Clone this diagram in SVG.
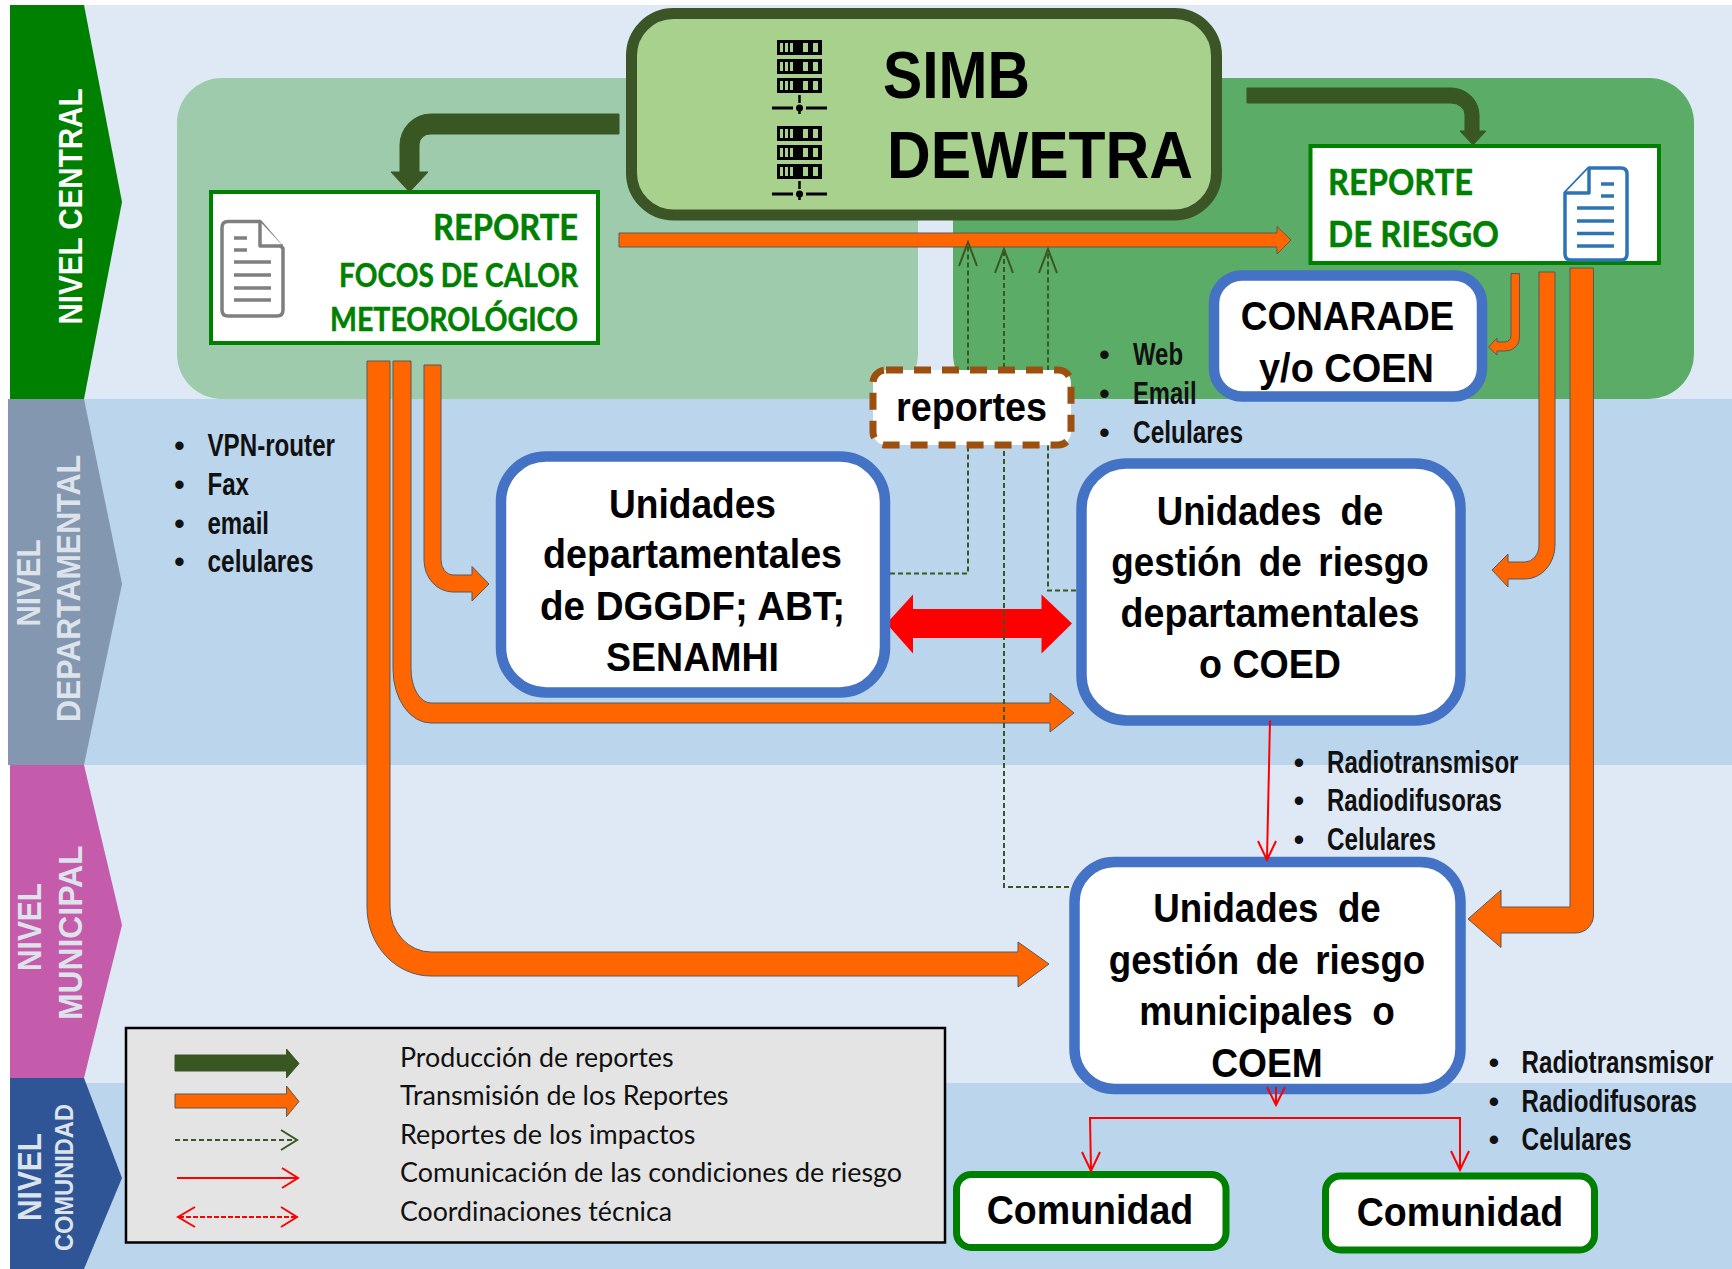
<svg xmlns="http://www.w3.org/2000/svg" xmlns:xlink="http://www.w3.org/1999/xlink" width="1732" height="1269" viewBox="0 0 1732 1269">
<style>
text{font-family:"Liberation Sans",Arial,sans-serif}
.lv{font-weight:700;font-size:33px;fill:#fff}
.lvd{font-weight:700;font-size:33px;fill:#DDE3EA}
.h{font-weight:700;font-size:40px;fill:#000;text-anchor:middle}
.g{font-family:Lato,"Open Sans",sans-serif;font-weight:700;font-size:37px;fill:#008000;stroke:#008000;stroke-width:.5}
.gs{font-family:Lato,"Open Sans",sans-serif;font-weight:700;font-size:33px;fill:#008000;stroke:#008000;stroke-width:.5}
.b{font-weight:700;font-size:31px;fill:#111}
.bl{font-size:31px;fill:#111;text-anchor:middle}
.lg{font-family:Lato,"Open Sans",sans-serif;font-size:27px;fill:#111}
.or{fill:#FF6600;stroke:#595959;stroke-width:1}
.dk{fill:#385723;stroke:#385723;stroke-width:1}
.box{fill:#fff;stroke:#4472C4;stroke-width:10.5}
.com{fill:#fff;stroke:#008000;stroke-width:7}
.rep{fill:#fff;stroke:#008000;stroke-width:4}
.dash{fill:none;stroke:#385723;stroke-width:2;stroke-dasharray:5 3}
.head{fill:none;stroke:#385723;stroke-width:2}
.red{fill:none;stroke:#FF0000;stroke-width:2}
.doc1{fill:#fff;stroke:#7F7F7F;stroke-width:3.5;stroke-linejoin:round}
.doc2{fill:#fff;stroke:#2E74B5;stroke-width:3.5;stroke-linejoin:round}
</style>
<defs>
<g id="rack">
<rect x="0" y="0" width="45" height="15" fill="#000"/>
<rect x="3" y="3" width="3" height="9" fill="#A9D18E"/><rect x="8" y="3" width="3" height="9" fill="#A9D18E"/><rect x="13" y="3" width="3" height="9" fill="#A9D18E"/><rect x="26" y="3" width="5" height="9" fill="#A9D18E"/><rect x="36" y="3" width="5" height="9" fill="#A9D18E"/>
</g>
<g id="server">
<use xlink:href="#rack" href="#rack" y="0"/><use xlink:href="#rack" href="#rack" y="19"/><use xlink:href="#rack" href="#rack" y="38"/>
<path d="M22.500 55V63M22.500 70V74" stroke="#000" stroke-width="2.500"/>
<path d="M-5 68H16M29 68H50" stroke="#000" stroke-width="3"/>
<circle cx="22.500" cy="68" r="3.500" fill="#000"/>
</g>
</defs>

<g id="bands">
<rect x="84" y="5" width="1648" height="394" fill="#DEE9F5"/>
<rect x="84" y="399" width="1648" height="366" fill="#BBD5ED"/>
<rect x="84" y="765" width="1648" height="318" fill="#DEE9F5"/>
<rect x="84" y="1083" width="1648" height="186" fill="#BBD5ED"/>
<rect x="177" y="78" width="741" height="321" rx="45" ry="45" fill="#9DCBAC"/>
<rect x="953" y="78" width="741" height="321" rx="45" ry="45" fill="#5BAC66"/>
</g>

<g id="nivel-central">
<path d="M10,5H84L122,202L84,399H10Z" fill="#008000"/>
<text class="lv" transform="translate(82,324.500) rotate(-90)" textLength="236" lengthAdjust="spacingAndGlyphs">NIVEL CENTRAL</text>
</g>
<g id="nivel-departamental">
<path d="M8,399H84L122,584L84,765H8Z" fill="#8497B0"/>
<text class="lvd" transform="translate(40,626.500) rotate(-90)" textLength="87" lengthAdjust="spacingAndGlyphs">NIVEL</text>
<text class="lvd" transform="translate(80,722) rotate(-90)" textLength="267" lengthAdjust="spacingAndGlyphs">DEPARTAMENTAL</text>
</g>
<g id="nivel-municipal">
<path d="M10,765H84L122,925L84,1078H10Z" fill="#C55CAB"/>
<text class="lvd" transform="translate(41,971) rotate(-90)" textLength="88" lengthAdjust="spacingAndGlyphs">NIVEL</text>
<text class="lvd" transform="translate(81.500,1020) rotate(-90)" textLength="174.500" lengthAdjust="spacingAndGlyphs">MUNICIPAL</text>
</g>
<g id="nivel-comunidad">
<path d="M10,1078H84L122,1178L84,1269H10Z" fill="#2F5597"/>
<text class="lvd" transform="translate(41,1221) rotate(-90)" textLength="88" lengthAdjust="spacingAndGlyphs">NIVEL</text>
<text class="lvd" style="font-size:25px" transform="translate(73,1251) rotate(-90)" textLength="147" lengthAdjust="spacingAndGlyphs">COMUNIDAD</text>
</g>

<g id="simb">
<rect x="631.500" y="13.500" width="585" height="201.500" rx="42" ry="42" fill="#A9D18E" stroke="#3B5526" stroke-width="11"/>
<use xlink:href="#server" href="#server" x="777" y="40"/>
<use xlink:href="#server" href="#server" x="777" y="126"/>
<text x="883" y="98" font-weight="700" font-size="66" textLength="147" lengthAdjust="spacingAndGlyphs">SIMB</text>
<text x="887" y="177.500" font-weight="700" font-size="66" textLength="306" lengthAdjust="spacingAndGlyphs">DEWETRA</text>
</g>

<g id="reporte-focos">
<rect class="rep" x="211" y="192" width="387" height="151"/>
<path class="doc1" d="M228,221.500H260L283,248.500V310Q283,316 277,316H228Q222,316 222,310V227.500Q222,221.500 228,221.500Z"/>
<path class="doc1" d="M260,221.500V246H283" fill="none"/>
<path d="M234,238H247M234,250H247M234,262H271M234,275H271M234,288H271M234,300H271" stroke="#7F7F7F" stroke-width="3.500" fill="none"/>
<text class="g" x="578" y="240" text-anchor="end" textLength="145" lengthAdjust="spacingAndGlyphs">REPORTE</text>
<text class="gs" x="578" y="286.500" text-anchor="end" textLength="239" lengthAdjust="spacingAndGlyphs">FOCOS DE CALOR</text>
<text class="gs" x="578" y="331" text-anchor="end" textLength="248" lengthAdjust="spacingAndGlyphs">METEOROLÓGICO</text>
</g>

<g id="reporte-riesgo">
<rect class="rep" x="1310.500" y="146" width="348.500" height="117"/>
<path class="doc2" d="M1589,168H1621Q1627,168 1627,174V254Q1627,260 1621,260H1571Q1565,260 1565,254V193Z"/>
<path class="doc2" d="M1589,168V193H1565" fill="none"/>
<path d="M1601,184H1614M1601,196H1614M1577,208H1614M1577,221H1614M1577,233.500H1614M1577,246H1614" stroke="#2E74B5" stroke-width="3.500" fill="none"/>
<text class="g" x="1328" y="195" textLength="145" lengthAdjust="spacingAndGlyphs">REPORTE</text>
<text class="g" x="1328" y="246.500" textLength="171" lengthAdjust="spacingAndGlyphs">DE RIESGO</text>
</g>

<g id="conectores">
<path class="dk" d="M619,114L431,114A31,31 0 0 0 400,145L400,172L391,172L409.500,192L428,172L419,172L419,145A11,11 0 0 1 431,134L619,134Z"/>
<path class="dk" d="M1247,88L1451,88A28,27 0 0 1 1479,115L1479,131L1486,131L1473,145L1460,131L1465,131L1465,115A14,12 0 0 0 1451,103L1247,103Z"/>
<path class="or" d="M619,233L1277,233L1277,226.500L1291,240L1277,254L1277,247L619,247Z"/>
<path class="or" d="M367,361L390,361L390,907A41,45 0 0 0 431,952L1018,952L1018,942L1049,964L1018,987L1018,976L431,976A64,69 0 0 1 367,907Z"/>
<path class="or" d="M393,361L411,361L411,669A20,34 0 0 0 431,703L1050,703L1050,693L1074,713L1050,732L1050,723L431,723A38,54 0 0 1 393,669Z"/>
<path class="or" d="M424,365L441,365L441,560A12,15 0 0 0 453,575L472,575L472,566.500L489,584L472,601L472,592L453,592A29,32 0 0 1 424,560Z"/>
<path class="or" d="M1511,273.500L1519.500,273.500L1519.500,338A14,13 0 0 1 1505,351L1497,351L1497,355L1488.500,347L1497,338L1497,342L1505,342A6,6 0 0 0 1511,336Z"/>
<path class="or" d="M1539,272L1555,272L1555,545A30,34 0 0 1 1525,579L1508,579L1508,587L1492,570L1508,554L1508,562L1525,562A14,17 0 0 0 1539,545Z"/>
<path class="or" d="M1570,268L1593.500,268L1593.500,915A18,18 0 0 1 1575,933L1501,933L1501,947.500L1468,919L1501,890L1501,907L1570,907Z"/>
<path d="M886.500,623.500L913,594.500V609H1041.500V594.500L1072,623.500L1041.500,653.500V638H913V653.500Z" fill="#FF0000"/>
<path class="dash" d="M890,573.500H968V243"/>
<path class="dash" d="M1069,887H1004V250"/>
<path class="dash" d="M1076,590.500H1048V250"/>
<path class="head" d="M959,266L968,242L977,266M995,273L1004,249L1013,273M1039,273L1048,249L1057,273"/>
</g>

<g id="conarade">
<rect class="box" x="1214" y="275.500" width="268" height="121" rx="28" ry="28"/>
<text class="h" x="1347.500" y="330" textLength="213.500" lengthAdjust="spacingAndGlyphs">CONARADE</text>
<text class="h" x="1346.500" y="381.500" textLength="175" lengthAdjust="spacingAndGlyphs">y/o COEN</text>
</g>

<g id="reportes">
<rect x="873" y="370" width="198" height="75" rx="13" ry="13" fill="#fff" stroke="#9C4F0E" stroke-width="7" stroke-dasharray="17 11"/>
<text class="h" x="971.500" y="421" textLength="151" lengthAdjust="spacingAndGlyphs">reportes</text>
</g>

<g id="unidades-departamentales">
<rect class="box" x="501" y="456.500" width="384" height="236" rx="45" ry="45"/>
<text class="h" x="692.500" y="517.500" textLength="167" lengthAdjust="spacingAndGlyphs">Unidades</text>
<text class="h" x="692.500" y="568" textLength="299" lengthAdjust="spacingAndGlyphs">departamentales</text>
<text class="h" x="692.500" y="619.500" textLength="305" lengthAdjust="spacingAndGlyphs">de DGGDF; ABT;</text>
<text class="h" x="692.500" y="671" textLength="173" lengthAdjust="spacingAndGlyphs">SENAMHI</text>
</g>

<g id="unidades-riesgo-departamentales">
<rect class="box" x="1081.500" y="463.500" width="379" height="257" rx="45" ry="45"/>
<text class="h" x="1270" y="524.500" word-spacing="10" textLength="226.500" lengthAdjust="spacingAndGlyphs">Unidades de</text>
<text class="h" x="1270" y="575.500" word-spacing="7" textLength="317.500" lengthAdjust="spacingAndGlyphs">gestión de riesgo</text>
<text class="h" x="1270" y="626.500" textLength="299" lengthAdjust="spacingAndGlyphs">departamentales</text>
<text class="h" x="1270" y="678" textLength="142" lengthAdjust="spacingAndGlyphs">o COED</text>
</g>

<g id="unidades-riesgo-municipales">
<rect class="box" x="1074.500" y="862" width="386" height="227" rx="40" ry="40"/>
<text class="h" x="1267" y="922" word-spacing="10" textLength="227.500" lengthAdjust="spacingAndGlyphs">Unidades de</text>
<text class="h" x="1267" y="973.500" word-spacing="7" textLength="316.500" lengthAdjust="spacingAndGlyphs">gestión de riesgo</text>
<text class="h" x="1267" y="1025" word-spacing="10" textLength="255.500" lengthAdjust="spacingAndGlyphs">municipales o</text>
<text class="h" x="1267" y="1077" textLength="111.500" lengthAdjust="spacingAndGlyphs">COEM</text>
</g>

<g id="comunidad-1">
<rect class="com" x="956.500" y="1174.500" width="269.500" height="73" rx="15" ry="15"/>
<text class="h" x="1090" y="1224" textLength="206.500" lengthAdjust="spacingAndGlyphs">Comunidad</text>
</g>
<g id="comunidad-2">
<rect class="com" x="1325.500" y="1176" width="269" height="74" rx="15" ry="15"/>
<text class="h" x="1460" y="1226" textLength="206.500" lengthAdjust="spacingAndGlyphs">Comunidad</text>
</g>

<g id="conectores-rojos">
<path class="red" d="M1270,720.500L1267,859M1258,841L1267,860L1276,841"/>
<path class="red" d="M1276,1087V1104M1267,1087L1276,1105L1285,1087"/>
<path class="red" d="M1091,1170L1090,1118H1460V1169"/>
<path class="red" d="M1082,1152L1091,1171L1100,1152M1451,1151L1460,1170L1469,1151"/>
</g>

<g id="lista-vpn">
<text class="bl" x="179.500" y="456">•</text><text class="b" x="207.500" y="456" textLength="127.500" lengthAdjust="spacingAndGlyphs">VPN-router</text>
<text class="bl" x="179.500" y="494.500">•</text><text class="b" x="207.500" y="494.500" textLength="41.500" lengthAdjust="spacingAndGlyphs">Fax</text>
<text class="bl" x="179.500" y="533.500">•</text><text class="b" x="207.500" y="533.500" textLength="61.500" lengthAdjust="spacingAndGlyphs">email</text>
<text class="bl" x="179.500" y="572">•</text><text class="b" x="207.500" y="572" textLength="106" lengthAdjust="spacingAndGlyphs">celulares</text>
</g>
<g id="lista-web">
<text class="bl" x="1104.500" y="364.500">•</text><text class="b" x="1133" y="364.500" textLength="50" lengthAdjust="spacingAndGlyphs">Web</text>
<text class="bl" x="1104.500" y="404">•</text><text class="b" x="1133" y="404" textLength="63.500" lengthAdjust="spacingAndGlyphs">Email</text>
<text class="bl" x="1104.500" y="443">•</text><text class="b" x="1133" y="443" textLength="110" lengthAdjust="spacingAndGlyphs">Celulares</text>
</g>
<g id="lista-radio-1">
<text class="bl" x="1299" y="773">•</text><text class="b" x="1327" y="773" textLength="191.500" lengthAdjust="spacingAndGlyphs">Radiotransmisor</text>
<text class="bl" x="1299" y="811">•</text><text class="b" x="1327" y="811" textLength="175" lengthAdjust="spacingAndGlyphs">Radiodifusoras</text>
<text class="bl" x="1299" y="849.500">•</text><text class="b" x="1327" y="849.500" textLength="109" lengthAdjust="spacingAndGlyphs">Celulares</text>
</g>
<g id="lista-radio-2">
<text class="bl" x="1494" y="1073">•</text><text class="b" transform="translate(1521.500,1073) scale(.7795,1)">Radiotransmisor</text>
<text class="bl" x="1494" y="1111.500">•</text><text class="b" transform="translate(1521.500,1111.500) scale(.778,1)">Radiodifusoras</text>
<text class="bl" x="1494" y="1149.500">•</text><text class="b" x="1521.500" y="1149.500" textLength="110" lengthAdjust="spacingAndGlyphs">Celulares</text>
</g>

<g id="leyenda">
<rect x="126" y="1028" width="819" height="214.500" fill="#E4E4E4" stroke="#000" stroke-width="2.500"/>
<path class="dk" d="M175,1055H286.500V1049L299,1063.500L286.500,1078V1071H175Z"/>
<path class="or" d="M175,1094H286.500V1086L299,1101.500L286.500,1116.500V1108H175Z"/>
<path class="dash" d="M175,1140H296"/>
<path class="head" d="M281,1130L297,1140L281,1150"/>
<path class="red" d="M177,1178H297M282,1168L298,1178L282,1188"/>
<path class="red" stroke-dasharray="5 2" d="M179,1217H296"/>
<path class="red" d="M195,1207L178,1217L195,1227M281,1207L297,1217L281,1227"/>
<text class="lg" x="400" y="1066.500" textLength="273.500" lengthAdjust="spacingAndGlyphs">Producción de reportes</text>
<text class="lg" x="400" y="1104.500" textLength="328.500" lengthAdjust="spacingAndGlyphs">Transmisión de los Reportes</text>
<text class="lg" x="400" y="1143.500" textLength="295.500" lengthAdjust="spacingAndGlyphs">Reportes de los impactos</text>
<text class="lg" x="400" y="1182" textLength="502" lengthAdjust="spacingAndGlyphs">Comunicación de las condiciones de riesgo</text>
<text class="lg" x="400" y="1221" textLength="272" lengthAdjust="spacingAndGlyphs">Coordinaciones técnica</text>
</g>
</svg>
